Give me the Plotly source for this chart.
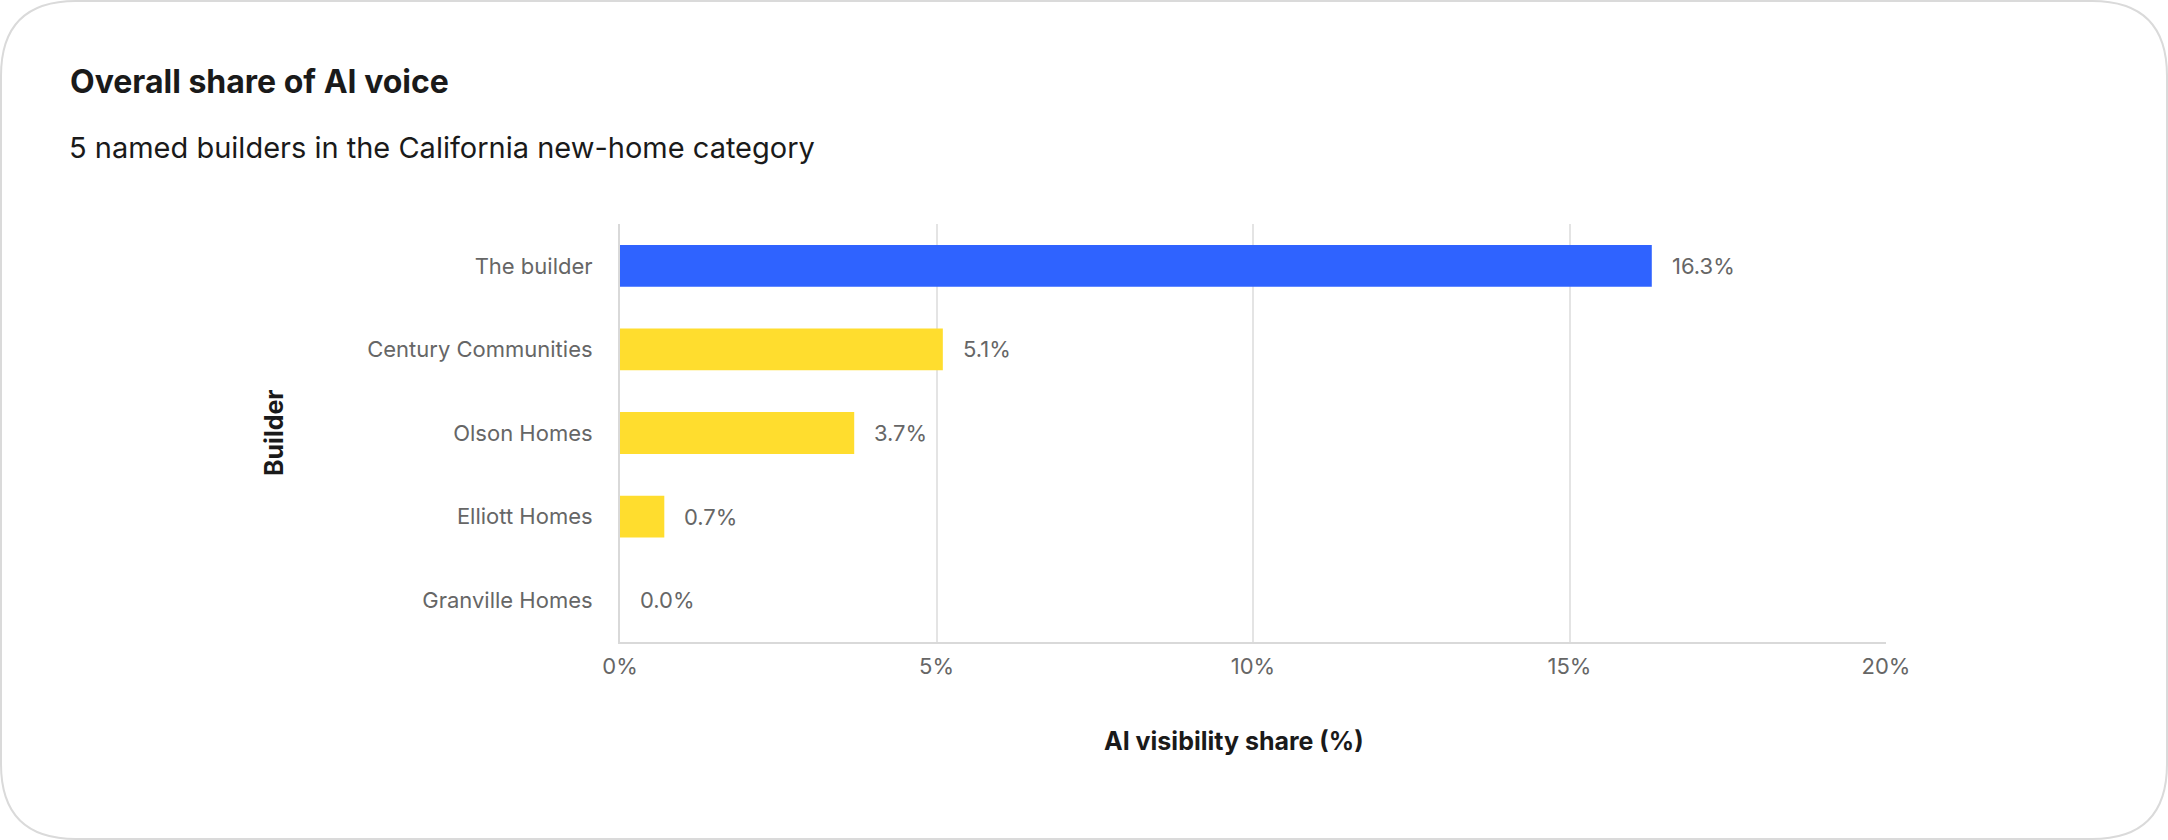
import plotly.graph_objects as go

# data
builders = ["The builder", "Century Communities", "Olson Homes", "Elliott Homes", "Granville Homes"]
share = [16.3, 5.1, 3.7, 0.7, 0.0]
bar_colors = ["#2F63FF", "#FFDD2E", "#FFDD2E", "#FFDD2E", "#FFDD2E"]
x_ticks = [0, 5, 10, 15, 20]
x_tick_text = ["0%", "5%", "10%", "15%", "20%"]

W, H = 2168, 840
L, R, T, B = 620, 282, 224, 198
PW, PH = W - L - R, H - T - B


def px(x):
    return (x - L) / PW


def py(y):
    return (H - B - y) / PH


FONT = "Inter, Roboto, sans-serif"

fig = go.Figure()
fig.add_trace(go.Bar(
    x=share, y=builders, orientation="h",
    marker=dict(color=bar_colors, line=dict(width=0)),
    width=0.5, hoverinfo="skip",
))

# value labels just right of each bar
for b, v in zip(builders, share):
    fig.add_annotation(x=v, y=b, xref="x", yref="y", text=f"{v:.1f}%",
                       showarrow=False, xanchor="left", xshift=18,
                       font=dict(family=FONT, size=22, color="#666666"))

# rounded card outline
x0, x1, y0, y1, r = 1, W - 1, 1, H - 1, 75
path = (f"M {px(x0 + r)} {py(y0)} L {px(x1 - r)} {py(y0)} "
        f"Q {px(x1)} {py(y0)} {px(x1)} {py(y0 + r)} L {px(x1)} {py(y1 - r)} "
        f"Q {px(x1)} {py(y1)} {px(x1 - r)} {py(y1)} L {px(x0 + r)} {py(y1)} "
        f"Q {px(x0)} {py(y1)} {px(x0)} {py(y1 - r)} L {px(x0)} {py(y0 + r)} "
        f"Q {px(x0)} {py(y0)} {px(x0 + r)} {py(y0)} Z")
fig.add_shape(type="path", path=path, xref="paper", yref="paper",
              line=dict(color="#DADADA", width=2), layer="below")

fig.add_annotation(x=px(68), y=py(81), xref="paper", yref="paper",
                   text="<b>Overall share of AI voice</b>", showarrow=False,
                   xanchor="left", yanchor="middle",
                   font=dict(family=FONT, size=32, color="#1A1A1A"))
fig.add_annotation(x=px(67), y=py(147), xref="paper", yref="paper",
                   text="5 named builders in the California new-home category", showarrow=False,
                   xanchor="left", yanchor="middle",
                   font=dict(family=FONT, size=29, color="#1A1A1A"))
fig.add_annotation(x=px(1234), y=py(741), xref="paper", yref="paper",
                   text="<b>AI visibility share (%)</b>", showarrow=False,
                   xanchor="center", yanchor="middle",
                   font=dict(family=FONT, size=25, color="#1A1A1A"))
fig.add_annotation(x=px(274), y=py(433), xref="paper", yref="paper",
                   text="<b>Builder</b>", showarrow=False, textangle=-90,
                   xanchor="center", yanchor="middle",
                   font=dict(family=FONT, size=25, color="#1A1A1A"))

fig.update_layout(
    width=W, height=H,
    margin=dict(l=L, r=R, t=T, b=B),
    paper_bgcolor="white", plot_bgcolor="white",
    showlegend=False,
    bargap=0.5,
    font=dict(family=FONT, size=22, color="#666666"),
)
fig.update_xaxes(
    range=[0, 20], tickvals=x_ticks, ticktext=x_tick_text,
    showgrid=True, gridcolor="#E4E4E4", gridwidth=1.5,
    zeroline=False, showline=True, linecolor="#D9D9D9", linewidth=2,
    ticks="", ticklabelstandoff=4,
    tickfont=dict(family=FONT, size=22, color="#666666"),
)
fig.update_yaxes(
    autorange="reversed", showgrid=False, zeroline=False,
    showline=True, linecolor="#D9D9D9", linewidth=2,
    ticks="", ticklabelstandoff=21,
    tickfont=dict(family=FONT, size=22, color="#666666"),
)

# the page body has a default margin; drop it so the card sits flush with the window
fig.write_html("out.html", config={"displayModeBar": False},
               post_script="document.body.style.margin='0';")
